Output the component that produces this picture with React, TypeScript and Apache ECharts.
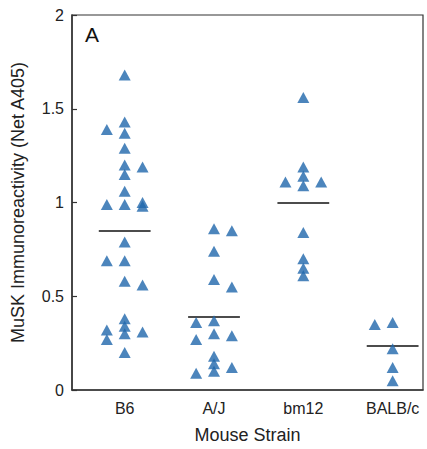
import React, { useEffect, useRef } from "react";
import * as echarts from "echarts";

const CATEGORIES = ["B6", "A/J", "bm12", "BALB/c"];
const Y_TICKS = [0, 0.5, 1, 1.5, 2];

// Values per group, split by visual column (left / middle / right)
const B6_LEFT = [1.39, 0.99, 0.69, 0.32, 0.27];
const B6_MID = [1.68, 1.43, 1.37, 1.29, 1.2, 1.15, 1.06, 0.99, 0.79, 0.69, 0.58, 0.38, 0.34, 0.3, 0.2];
const B6_RIGHT = [1.19, 1.0, 0.98, 0.56, 0.31];

const AJ_LEFT = [0.36, 0.27, 0.09];
const AJ_MID = [0.86, 0.74, 0.59, 0.37, 0.3, 0.18, 0.14, 0.1];
const AJ_RIGHT = [0.85, 0.55, 0.29, 0.12];

const BM12_LEFT = [1.11];
const BM12_MID = [1.56, 1.19, 1.14, 1.09, 0.84, 0.7, 0.65, 0.61];
const BM12_RIGHT = [1.11];

const BALB_LEFT = [0.35];
const BALB_MID = [0.36, 0.22, 0.12, 0.05];
const BALB_RIGHT: number[] = [];

const MEANS = [0.85, 0.39, 1.0, 0.235];

const GROUPS = [
  [B6_LEFT, B6_MID, B6_RIGHT],
  [AJ_LEFT, AJ_MID, AJ_RIGHT],
  [BM12_LEFT, BM12_MID, BM12_RIGHT],
  [BALB_LEFT, BALB_MID, BALB_RIGHT],
];

const FONT = "'Liberation Sans', Arial, Helvetica, sans-serif";

export default function App() {
  const ref = useRef<HTMLDivElement>(null);

  useEffect(() => {
    if (!ref.current) return;
    const chart = echarts.init(ref.current, undefined, { renderer: "svg" });

    const COL_OFFSET = 0.2;
    const points: number[][] = [];
    GROUPS.forEach((cols, gi) => {
      cols.forEach((vals, ci) => {
        vals.forEach((v) => points.push([gi + (ci - 1) * COL_OFFSET, v]));
      });
    });

    const meanLines = MEANS.map((m, i) => ({
      coords: [
        [i - 0.29, m],
        [i + 0.29, m],
      ],
    }));

    chart.setOption({
      animation: false,
      backgroundColor: "#ffffff",
      title: {
        text: "A",
        left: 80,
        top: 19,
        textStyle: { fontFamily: FONT, fontSize: 21, fontWeight: "normal", color: "#111" },
      },
      grid: {
        left: 72,
        right: 4,
        top: 15,
        bottom: 57,
        show: true,
        borderColor: "#333",
        borderWidth: 1.2,
        backgroundColor: "transparent",
      },
      xAxis: {
        type: "value",
        min: -0.59,
        max: 3.34,
        name: "Mouse Strain",
        nameLocation: "middle",
        nameGap: 36,
        nameTextStyle: { fontFamily: FONT, fontSize: 18, color: "#222" },
        splitLine: { show: false },
        axisTick: { show: false },
        axisLine: { show: true, onZero: false, lineStyle: { color: "#333", width: 1.5 } },
        axisLabel: {
          customValues: [0, 1, 2, 3],
          formatter: (v: number) => CATEGORIES[Math.round(v)] ?? "",
          fontFamily: FONT,
          fontSize: 16,
          color: "#222",
          margin: 10,
        },
      },
      yAxis: {
        type: "value",
        min: 0,
        max: 2,
        interval: 0.5,
        name: "MuSK Immunoreactivity (Net A405)",
        nameLocation: "middle",
        nameGap: 45,
        nameTextStyle: { fontFamily: FONT, fontSize: 18, color: "#222" },
        splitLine: { show: false },
        axisLine: { show: true, onZero: false, lineStyle: { color: "#333", width: 1.5 } },
        axisTick: { show: true, inside: true, length: 5, lineStyle: { color: "#333", width: 1.2 } },
        axisLabel: {
          customValues: Y_TICKS,
          fontFamily: FONT,
          fontSize: 16,
          color: "#222",
          margin: 8,
        },
      },
      series: [
        {
          type: "scatter",
          data: points,
          symbol: "triangle",
          symbolSize: [12, 11],
          itemStyle: { color: "#1f67ab" },
          silent: true,
        },
        {
          type: "lines",
          coordinateSystem: "cartesian2d",
          data: meanLines,
          lineStyle: { color: "#111", width: 1.5, opacity: 1 },
          silent: true,
        },
      ],
    });

    return () => chart.dispose();
  }, []);

  return (
    <div
      ref={ref}
      style={{ position: "fixed", left: 0, top: 0, width: 427, height: 449 }}
    />
  );
}
